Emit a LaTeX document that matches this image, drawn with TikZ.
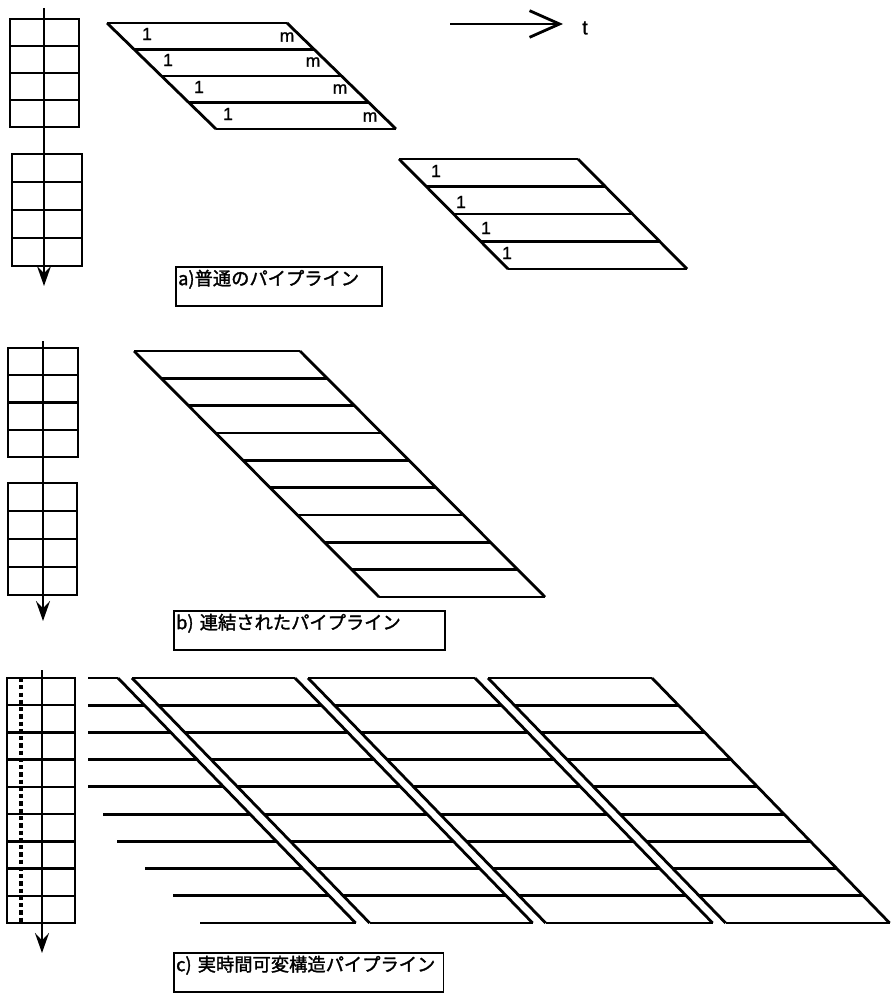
\documentclass[tikz,border=0pt]{standalone}
\usepackage{fontspec}
\usetikzlibrary{arrows.meta}
\newfontfamily\jpfont[AutoFakeBold=1.6]{Noto Sans CJK JP}
\newfontfamily\numfont[AutoFakeBold=1.2]{Liberation Sans}

\begin{document}
\begin{tikzpicture}[x=0.03cm, y=-0.03cm,
  reg/.style={line width=2.1pt},
  pl/.style={line width=2.4pt},
  flow/.style={line width=2pt, -{Stealth[length=0.6cm, width=0.42cm, inset=0.22cm]}},
  idx/.style={font=\numfont\bfseries\fontsize{15}{17}\selectfont, inner sep=0pt},
  capbox/.style={draw, line width=1.4pt, anchor=north west, inner xsep=2pt, inner ysep=0pt, align=left,
    font=\jpfont\bfseries\fontsize{15.6}{18}\selectfont, text height=0.55cm, text depth=0.62cm}
]
\useasboundingbox (0,0) rectangle (894,993);

% a) registers
\foreach \lx/\rx/\tp/\bt in {10/79/19/127, 12/82/154/266} {
  \draw[reg] (\lx,\tp) rectangle (\rx,\bt);
  \foreach \r in {1,2,3} \draw[reg] (\lx,{\tp+\r*(\bt-\tp)/4}) -- (\rx,{\tp+\r*(\bt-\tp)/4});
}
\coordinate (regAtop) at (44,8);
\coordinate (regAend) at (44,286);
\draw[flow] (regAtop) -- (regAend);

% a) first pipeline
\foreach \k in {0,...,4} \draw[pl] ({107+\k*27.25},{23+\k*26.5}) -- ++(180,0);
\draw[pl] (107,23) -- (216,129);
\draw[pl] (287,23) -- (396,129);
\foreach \k/\ox/\oy/\mx/\my in {0/147/34/287/37, 1/168/60/313/62, 2/199/87/340/89, 3/228/114/370/117} {
  \node[idx] (oneA\k) at (\ox,\oy) {1};
  \node[idx] (mA\k) at (\mx,\my) {m};
}

% time axis
\coordinate (tstart) at (450,24);
\coordinate (tend) at (563,24);
\node[idx, font=\numfont\bfseries\fontsize{17}{19}\selectfont] (t) at (585,28) {t};
\draw[line width=2pt, -{Straight Barb[length=0.9cm, width=0.8cm, line width=2.4pt]}] (tstart) -- (tend);

% a) second pipeline
\foreach \k in {0,...,4} \draw[pl] ({399+\k*27.25},{159+\k*27.5}) -- ++(179,0);
\draw[pl] (399,159) -- (508,269);
\draw[pl] (578,159) -- (687,269);
\foreach \k/\ox/\oy in {0/436/171, 1/461/202, 2/486/228, 3/507/253}
  \node[idx] (oneB\k) at (\ox,\oy) {1};

\node[capbox, text width=6.05cm] (capA) at (175,266) {a)普通のパイプライン};

% b) registers
\foreach \lx/\rx/\tp/\bt in {8/78/348/457, 8/77/483/595} {
  \draw[reg] (\lx,\tp) rectangle (\rx,\bt);
  \foreach \r in {1,2,3} \draw[reg] (\lx,{\tp+\r*(\bt-\tp)/4}) -- (\rx,{\tp+\r*(\bt-\tp)/4});
}
\coordinate (regBtop) at (43,341);
\coordinate (regBend) at (43,621);
\draw[flow] (regBtop) -- (regBend);

% b) linked pipeline
\foreach \k in {0,...,9} \draw[pl] ({134+\k*27.22},{351+\k*27.33}) -- ++(166,0);
\draw[pl] (134,351) -- (379,597);
\draw[pl] (300,351) -- (545,597);

\node[capbox, text width=8.0cm] (capB) at (173,610) {b) 連結されたパイプライン};

% c) registers
\draw[reg] (7,678) rectangle (75,923);
\foreach \r in {1,...,8} \draw[reg] (7,{678+\r*27.22}) -- (75,{678+\r*27.22});
\coordinate (dotTop) at (21,678);
\coordinate (dotEnd) at (21,923);
\draw[line width=2.8pt, dash pattern=on 3.6pt off 2.6pt] (dotTop) -- (dotEnd);
\coordinate (regCtop) at (42,670);
\coordinate (regCend) at (42,953);
\draw[flow] (regCtop) -- (regCend);

% c) reconfigurable pipeline
\foreach \k/\xs in {0/88,1/88,2/88,3/88,4/88,5/103,6/117,7/145,8/173,9/200} {
  \pgfmathsetmacro\s{\k*26.4}
  \pgfmathsetmacro\yy{678+\k*27.22}
  \draw[pl] (\xs,\yy) -- ({118+\s},\yy);
  \foreach \a/\b in {132/295, 308/475, 488/652} \draw[pl] ({\a+\s},\yy) -- ({\b+\s},\yy);
}
\foreach \a in {118,132,295,308,475,488,652} \draw[pl] (\a,678) -- ++(237.6,245);

\node[capbox, text width=7.95cm] (capC) at (173,952) {c) 実時間可変構造パイプライン};
\end{tikzpicture}
\end{document}
